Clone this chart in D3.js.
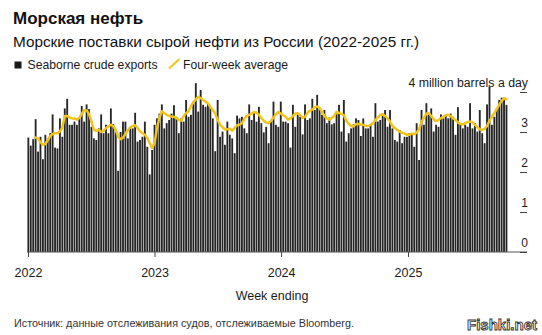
<!DOCTYPE html>
<html><head><meta charset="utf-8">
<script src="https://cdn.jsdelivr.net/npm/d3@7"></script>
<style>
body{margin:0;background:#fff}
svg{display:block}
text{font-family:"Liberation Sans",Arial,Helvetica,sans-serif}
</style>
</head><body>
<svg id="chart" width="542" height="335"></svg>
<script>
// ---- data (million barrels a day, weekly, week ending) ----
const firstWeekEnding = "2022-01-02";
const exportsMbd = [
2.86,2.66,2.82,3.32,2.51,2.88,2.32,2.93,2.84,2.97,
3.44,2.61,2.59,3.34,2.88,3.59,3.83,3.18,3.18,3.26,
3.18,3.34,3.65,3.26,3.69,3.57,3.13,2.84,2.80,3.09,
3.44,2.97,3.18,2.97,3.59,3.20,3.00,2.03,3.00,3.26,
3.26,2.84,3.09,3.09,3.48,2.76,2.80,2.88,3.26,2.63,
1.94,2.55,3.18,3.34,3.46,3.69,3.09,3.22,3.30,3.46,
3.67,3.38,2.97,3.34,3.26,3.80,3.38,3.43,3.76,4.22,
3.51,4.05,3.68,3.63,3.72,3.63,3.34,2.52,3.80,2.88,
3.01,2.68,3.26,2.93,2.84,2.47,3.41,3.34,3.38,3.09,
2.97,3.69,3.30,3.51,3.26,3.63,3.22,2.99,3.13,2.72,
3.30,3.76,3.18,3.13,3.76,3.26,3.26,3.22,2.61,3.68,
3.13,3.46,3.38,2.94,3.69,3.30,3.34,3.83,3.55,3.93,
3.60,3.43,3.55,3.22,3.36,3.19,3.22,3.51,3.68,3.01,
3.80,2.76,2.97,3.09,3.19,3.34,3.30,2.90,3.34,3.09,
3.09,3.19,2.88,3.72,3.26,3.30,3.46,3.55,3.13,3.55,
3.09,2.80,2.76,3.05,2.72,2.88,2.88,2.97,2.93,2.63,
3.22,2.30,3.55,3.18,3.72,3.43,3.59,3.01,3.18,3.13,
3.44,3.34,3.43,3.34,3.46,3.38,2.93,3.62,3.22,3.09,
3.18,3.13,3.72,3.09,3.22,3.01,3.55,2.97,2.72,3.69,
4.14,3.18,3.38,3.59,3.80,3.86,3.86,3.68
];
const fourWeekAvg = [
null,null,null,2.86,2.84,2.74,2.68,2.70,2.80,2.90,
2.95,2.97,2.97,3.02,3.10,3.40,3.40,3.36,3.34,3.34,
3.31,3.35,3.45,3.55,3.54,3.45,3.26,3.05,3.03,3.05,
3.00,3.03,3.10,3.14,3.18,3.15,3.05,2.88,2.82,2.86,
2.95,3.05,3.12,3.15,3.17,3.10,3.02,2.97,2.93,2.85,
2.72,2.60,2.72,3.10,3.35,3.52,3.47,3.43,3.40,3.38,
3.38,3.35,3.30,3.28,3.40,3.47,3.52,3.65,3.74,3.82,
3.88,3.85,3.80,3.76,3.72,3.62,3.55,3.46,3.30,3.18,
3.12,3.06,3.07,3.08,3.03,3.10,3.17,3.18,3.22,3.33,
3.40,3.43,3.46,3.50,3.48,3.43,3.35,3.28,3.24,3.22,
3.28,3.36,3.44,3.50,3.46,3.42,3.38,3.31,3.34,3.40,
3.46,3.47,3.42,3.35,3.38,3.48,3.53,3.56,3.62,3.64,
3.60,3.50,3.40,3.34,3.31,3.35,3.40,3.50,3.48,3.45,
3.42,3.28,3.20,3.15,3.14,3.20,3.20,3.18,3.18,3.15,
3.15,3.18,3.22,3.30,3.36,3.43,3.44,3.40,3.34,3.26,
3.15,3.10,3.05,3.01,2.98,2.96,2.93,2.93,2.96,2.95,
2.98,3.07,3.25,3.36,3.46,3.47,3.40,3.32,3.27,3.30,
3.35,3.38,3.42,3.43,3.40,3.34,3.30,3.24,3.20,3.19,
3.22,3.25,3.26,3.24,3.18,3.12,3.07,3.05,3.08,3.15,
3.28,3.38,3.47,3.58,3.68,3.78,3.84,3.82
];
const yearTickLabels = ["2022","2023","2024","2025"];
const valueTicks = [0,1,2,3,4];
const topTickLabel = "4 million barrels a day";

// ---- build ----
const svg = d3.select("#chart");
const parse = d3.timeParse("%Y-%m-%d");
const start = parse(firstWeekEnding);
const rows = exportsMbd.map((v,i)=>({date:d3.timeDay.offset(start, 7*i), v, avg:fourWeekAvg[i]}));
const yearDates = yearTickLabels.map(y=>parse(y+"-01-01"));

const x = d3.scaleTime().domain([yearDates[0], yearDates[3]]).range([28,408]);
const y = d3.scaleLinear().domain([0,4]).range([252,92]);
const bw = 1.85;

// titles
svg.append("text").attr("x",13).attr("y",23.5).attr("font-size",17).attr("font-weight","bold").attr("fill","#111").text("Морская нефть");
svg.append("text").attr("x",13).attr("y",46.5).attr("font-size",15.3).attr("fill","#111").text("Морские поставки сырой нефти из России (2022-2025 гг.)");

// legend
svg.append("rect").attr("x",14.5).attr("y",61.5).attr("width",7).attr("height",7).attr("fill","#1a1a1a");
svg.append("text").attr("x",27.5).attr("y",68.5).attr("font-size",12.2).attr("fill","#1a1a1a").text("Seaborne crude exports");
svg.append("line").attr("x1",169).attr("y1",68.5).attr("x2",179.5).attr("y2",59).attr("stroke","#f2c318").attr("stroke-width",2);
svg.append("text").attr("x",183).attr("y",68.5).attr("font-size",12.2).attr("fill","#1a1a1a").text("Four-week average");

// bars
svg.append("g").selectAll("rect").data(rows).join("rect")
  .attr("x",d=>x(d.date)-bw/2).attr("width",bw)
  .attr("y",d=>y(d.v)).attr("height",d=>y(0)-y(d.v))
  .attr("fill","#262626");

// average line
const line = d3.line().defined(d=>d.avg!=null).x(d=>x(d.date)).y(d=>y(d.avg));
svg.append("path").datum(rows).attr("d",line).attr("fill","none")
  .attr("stroke","#f2c318").attr("stroke-width",2.5).attr("stroke-linejoin","round").attr("stroke-linecap","round");

// baseline
svg.append("line").attr("x1",27).attr("x2",527).attr("y1",y(0)).attr("y2",y(0)).attr("stroke","#555").attr("stroke-width",1);

// x axis
const xAxis = svg.append("g").attr("transform",`translate(0,${y(0)})`)
  .call(d3.axisBottom(x).tickValues(yearDates).tickFormat(d3.timeFormat("%Y")).tickSize(5).tickPadding(11));
xAxis.select(".domain").remove();
xAxis.selectAll(".tick line").attr("stroke","#444");
xAxis.selectAll(".tick text").attr("font-size",12.5).attr("fill","#1a1a1a").attr("font-family",null);

// y axis (right)
const yAxis = svg.append("g").attr("transform","translate(520,0)")
  .call(d3.axisRight(y).tickValues(valueTicks).tickSize(7).tickFormat(d=>d===4?topTickLabel:d));
yAxis.select(".domain").remove();
yAxis.selectAll(".tick line").attr("stroke","#444");
yAxis.selectAll(".tick text").attr("x",8).attr("dy",null).attr("y",-6)
  .attr("text-anchor","end").attr("font-size",12).attr("fill","#1a1a1a").attr("font-family",null);
yAxis.selectAll(".tick text").filter(d=>d===4).attr("font-size",12.3);

// axis title & source
svg.append("text").attr("x",272).attr("y",299.5).attr("text-anchor","middle").attr("font-size",12.5).attr("fill","#1a1a1a").text("Week ending");
svg.append("text").attr("x",14).attr("y",326.5).attr("font-size",10.8).attr("fill","#333").text("Источник: данные отслеживания судов, отслеживаемые Bloomberg.");
svg.append("text").attr("x",537).attr("y",330).attr("text-anchor","end").attr("font-size",15).attr("font-weight","bold")
  .attr("fill","#fff").attr("stroke","#333").attr("stroke-width",0.9).text("Fishki.net");
</script>
</body></html>
